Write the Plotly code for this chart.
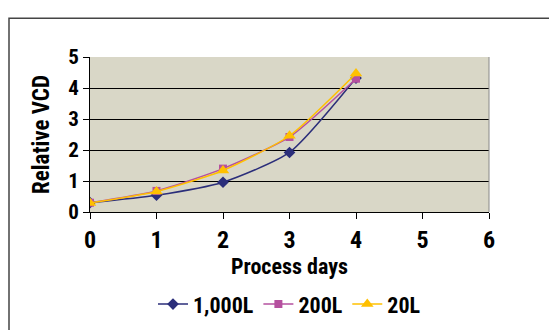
import plotly.graph_objects as go

days = [0, 1, 2, 3, 4]
vcd_1000L = [0.30, 0.54, 0.96, 1.92, 4.32]
vcd_200L = [0.30, 0.68, 1.40, 2.42, 4.30]
vcd_20L = [0.29, 0.66, 1.34, 2.46, 4.47]
x_ticks = [0, 1, 2, 3, 4, 5, 6]
y_ticks = [0, 1, 2, 3, 4, 5]

FONT = "Liberation Sans Narrow, Roboto Condensed, Liberation Sans, Arial, sans-serif"

fig = go.Figure()
series = [
    ("1,000L", vcd_1000L, "#2B2E7A", "diamond", 9),
    ("200L", vcd_200L, "#B5509F", "square", 8),
    ("20L", vcd_20L, "#FFC000", "triangle-up", 11),
]
for name, ys, col, sym, sz in series:
    fig.add_trace(go.Scatter(
        x=days, y=ys, name=name, mode="lines+markers",
        line=dict(color=col, width=1.5, shape="spline", smoothing=0.6),
        marker=dict(symbol=sym, size=sz, color=col),
    ))

fig.update_layout(
    width=557, height=330,
    margin=dict(l=82, r=76, t=49, b=126),
    paper_bgcolor="white", plot_bgcolor="#D9D7C7",
    font=dict(family=FONT, color="black", size=18),
    showlegend=True,
    legend=dict(orientation="h", x=0.5, xanchor="center", y=-0.46, yanchor="top",
                font=dict(family=FONT, size=22, color="black", weight="bold"),
                bgcolor="rgba(0,0,0,0)", itemwidth=30, tracegroupgap=0),
    xaxis=dict(range=[0, 6], tickvals=x_ticks, showgrid=False, zeroline=False,
               showline=True, linecolor="black", linewidth=1, automargin=False,
               ticks="outside", ticklen=6, tickcolor="black",
               tickfont=dict(family=FONT, size=24, weight="bold"),
               title=dict(text="Process days", standoff=2,
                          font=dict(family=FONT, size=22, weight="bold"))),
    yaxis=dict(range=[0, 5], tickvals=y_ticks, showgrid=True, gridcolor="black", gridwidth=1,
               zeroline=False, showline=True, linecolor="black", linewidth=1, automargin=False,
               ticks="outside", ticklen=6, tickcolor="black",
               tickfont=dict(family=FONT, size=21, weight="bold"),
               title=dict(text="Relative VCD", standoff=12,
                          font=dict(family=FONT, size=23, weight="bold"))),
)

# plot area right border (gray)
fig.add_shape(type="line", xref="paper", yref="paper", x0=1, x1=1, y0=0, y1=1,
              line=dict(color="#888888", width=1))
# outer frame
fig.add_shape(type="rect", xref="paper", yref="paper",
              x0=-0.203, x1=1.3, y0=-1.0, y1=1.25,
              line=dict(color="#444444", width=1.5), layer="below")

fig.write_html("out.html")
